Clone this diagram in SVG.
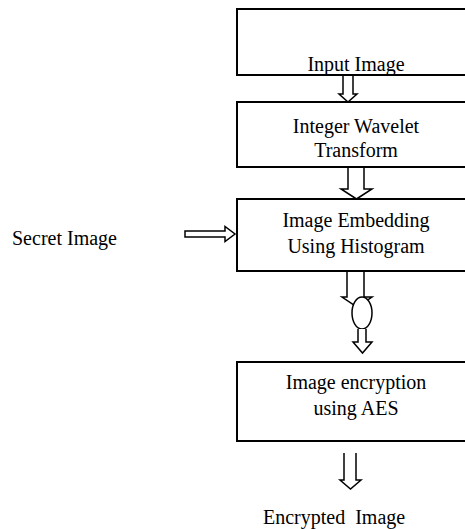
<svg xmlns="http://www.w3.org/2000/svg" width="465" height="529" viewBox="0 0 465 529">
<style>
.box{fill:#fff;stroke:#000;stroke-width:2}
.arr{fill:#fff;stroke:#000;stroke-width:1.5;stroke-linejoin:miter}
text{font-family:"Liberation Serif","Times New Roman",serif;font-size:20px;fill:#000}
.c{text-anchor:middle}
</style>
<rect width="465" height="529" fill="#fff"/>
<g id="connectors">
<path class="arr" d="M343,75 V94 H339 L348,102 L357,94 H353 V75"/>
<path class="arr" d="M348,167 V189 H341 L356.5,199 L372,189 H364 V167"/>
<path class="arr" d="M347,271 V297 H342 L357,307 L372,297 H364 V271"/>
<ellipse class="arr" cx="362" cy="313" rx="10" ry="16"/>
<path class="arr" d="M358,329 V342 H353 L362.5,353 L372,342 H366 V329"/>
<path class="arr" d="M344,453 V480 H340 L350.5,489 L361,480 H356 V453"/>
<path class="arr" d="M185,231 H225 V226.5 L235,234 L225,241.5 V237 H185 Z"/>
</g>
<g id="input-image">
<rect class="box" x="237" y="9" width="240" height="66"/>
<text class="c" x="356" y="71">Input Image</text>
</g>
<g id="integer-wavelet-transform">
<rect class="box" x="237" y="102" width="240" height="65"/>
<text class="c" x="356" y="133">Integer Wavelet</text>
<text class="c" x="356" y="157">Transform</text>
</g>
<g id="image-embedding">
<rect class="box" x="237" y="199" width="240" height="72"/>
<text class="c" x="356" y="227">Image Embedding</text>
<text class="c" x="356" y="253">Using Histogram</text>
</g>
<g id="image-encryption">
<rect class="box" x="237" y="362" width="240" height="79"/>
<text class="c" x="356" y="389">Image encryption</text>
<text class="c" x="356" y="415">using AES</text>
</g>
<g id="secret-image">
<text x="12" y="245" font-size="19">Secret Image</text>
</g>
<g id="encrypted-image">
<text x="263" y="524" xml:space="preserve">Encrypted  Image</text>
</g>
</svg>
